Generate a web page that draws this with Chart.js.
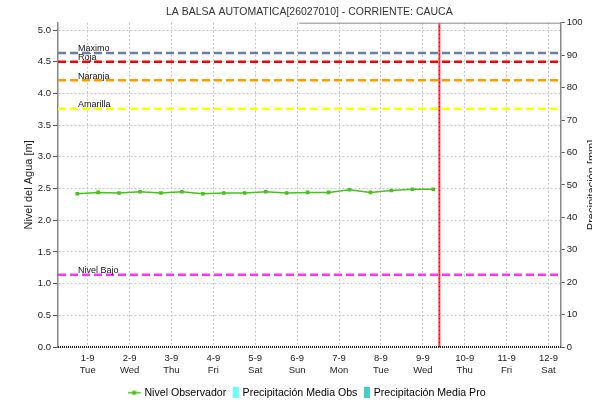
<!DOCTYPE html>
<html lang="es">
<head>
<meta charset="UTF-8">
<title>LA BALSA AUTOMATICA - Nivel del Agua</title>
<script src="https://cdn.jsdelivr.net/npm/chart.js"></script>
<style>
    html, body { margin: 0; padding: 0; background: #fff; }
    #wrap { width: 592px; height: 402px; position: relative; }
</style>
</head>
<body>
<div id="wrap"><canvas id="nivelChart"></canvas></div>
<script>
// time is in hours counted from 1-9 00:00
const horas = [-6, 6, 18, 30, 42, 54, 66, 78, 90, 102, 114, 126, 138, 150, 162, 174, 186, 198];
const nivel = [2.42, 2.44, 2.43, 2.45, 2.43, 2.45, 2.42, 2.43, 2.43, 2.45, 2.43, 2.44, 2.44, 2.48, 2.44, 2.47, 2.49, 2.49];
const precipObs = [];
const precipPro = [];

const fechas = ['1-9', '2-9', '3-9', '4-9', '5-9', '6-9', '7-9', '8-9', '9-9', '10-9', '11-9', '12-9'];
const dias = ['Tue', 'Wed', 'Thu', 'Fri', 'Sat', 'Sun', 'Mon', 'Tue', 'Wed', 'Thu', 'Fri', 'Sat'];

const umbrales = ['Maximo', 'Roja', 'Naranja', 'Amarilla', 'Nivel Bajo'];
const umbralValores = [4.64, 4.5, 4.21, 3.76, 1.14];
const umbralColores = ['#6e7ba3', '#ff0000', '#ff9a00', '#ffff00', '#ff33ff'];

const horaActual = 201.5;
const xMin = -17, xMax = 271;
const yMax = 5.116;

const verde = '#49c11c';
const cyanObs = '#66ffff';
const tealPro = '#44cccc';

Chart.defaults.font.family = "'Liberation Sans', Arial, sans-serif";
Chart.defaults.color = '#222';

// small legend icons
function iconoLinea() {
    const c = document.createElement('canvas');
    c.width = 17; c.height = 9;
    const g = c.getContext('2d');
    g.strokeStyle = verde; g.lineWidth = 1.5;
    g.beginPath(); g.moveTo(0, 4.5); g.lineTo(13, 4.5); g.stroke();
    g.fillStyle = verde; g.fillRect(4.5, 2.5, 4, 4);
    return c;
}
function iconoCaja(color) {
    const c = document.createElement('canvas');
    c.width = 11; c.height = 11;
    const g = c.getContext('2d');
    g.fillStyle = color; g.fillRect(4, 0, 6, 11);
    return c;
}

const datasets = [{
    label: 'Nivel Observador',
    type: 'line',
    data: horas.map((h, i) => ({ x: h, y: nivel[i] })),
    borderColor: verde,
    backgroundColor: verde,
    borderWidth: 1.5,
    pointStyle: 'rect',
    pointRadius: 2.5,
    pointBorderWidth: 0,
    tension: 0,
    yAxisID: 'y',
    order: 1
}, {
    label: 'Precipitación Media Obs',
    type: 'bar',
    data: precipObs,
    backgroundColor: cyanObs,
    yAxisID: 'y2'
}, {
    label: 'Precipitación Media Pro',
    type: 'bar',
    data: precipPro,
    backgroundColor: tealPro,
    yAxisID: 'y2'
}];

// threshold lines across the whole period
umbrales.forEach((nombre, i) => {
    datasets.push({
        label: nombre,
        type: 'line',
        data: [{ x: xMin, y: umbralValores[i] }, { x: xMax, y: umbralValores[i] }],
        borderColor: umbralColores[i],
        borderWidth: 2.5,
        borderDash: [8, 4],
        pointRadius: 0,
        yAxisID: 'y',
        order: 2
    });
});

// current time marker
datasets.push({
    label: 'ahora',
    type: 'line',
    data: [{ x: horaActual, y: 0 }, { x: horaActual, y: yMax }],
    borderColor: '#ff3b3b',
    borderWidth: 2,
    pointRadius: 0,
    yAxisID: 'y',
    order: 0
}, {
    label: 'ahora2',
    type: 'line',
    data: [{ x: horaActual, y: 0 }, { x: horaActual, y: yMax }],
    borderColor: '#b00000',
    borderWidth: 1,
    borderDash: [1, 3],
    pointRadius: 0,
    yAxisID: 'y',
    order: -1
});

const LEYENDA_ALTO = 26;
const AJUSTE_ABAJO = -6;

const textosExtra = {
    id: 'textosExtra',
    afterDatasetsDraw(chart) {
        const { ctx, chartArea, scales } = chart;
        ctx.save();
        ctx.font = "9px 'Liberation Sans', Arial, sans-serif";
        ctx.fillStyle = '#111';
        ctx.textAlign = 'left';
        ctx.textBaseline = 'alphabetic';
        umbrales.forEach((nombre, i) => {
            const y = scales.y.getPixelForValue(umbralValores[i]);
            ctx.fillText(nombre, chartArea.left + 20, y - 1.5);
        });
        ctx.restore();
    },
    afterDraw(chart) {
        const { ctx, chartArea } = chart;
        ctx.save();
        // upper border over the right part of the plot
        ctx.strokeStyle = '#8a8a8a';
        ctx.lineWidth = 1;
        ctx.beginPath();
        ctx.moveTo(chartArea.left + chartArea.width * 0.48, chartArea.top + 0.5);
        ctx.lineTo(chartArea.right, chartArea.top + 0.5);
        ctx.stroke();

        // dotted base line (minor hour ticks)
        ctx.strokeStyle = '#222';
        ctx.lineWidth = 2;
        ctx.setLineDash([1, 1]);
        ctx.beginPath();
        ctx.moveTo(chartArea.left, chartArea.bottom);
        ctx.lineTo(chartArea.right, chartArea.bottom);
        ctx.stroke();
        ctx.setLineDash([]);

        ctx.fillStyle = '#222';
        ctx.font = "11px 'Liberation Sans', Arial, sans-serif";
        ctx.textAlign = 'center';
        const cy = (chartArea.top + chartArea.bottom) / 2;
        ctx.translate(29, cy);
        ctx.rotate(-Math.PI / 2);
        ctx.textBaseline = 'middle';
        ctx.fillText('Nivel del Agua [m]', 0, 0);
        ctx.restore();

        ctx.save();
        ctx.fillStyle = '#222';
        ctx.font = "11px 'Liberation Sans', Arial, sans-serif";
        ctx.textAlign = 'center';
        ctx.textBaseline = 'alphabetic';
        ctx.translate(595, cy);
        ctx.rotate(-Math.PI / 2);
        ctx.fillText('Precipitación [mm]', 0, 0);
        ctx.restore();
    }
};

new Chart(document.getElementById('nivelChart'), {
    data: { datasets },
    options: {
        responsive: true,
        maintainAspectRatio: false,
        animation: false,
        layout: { padding: { left: 0, right: 0, top: 0, bottom: AJUSTE_ABAJO } },
        plugins: {
            title: {
                display: true,
                fullSize: false,
                text: 'LA BALSA AUTOMATICA[26027010] - CORRIENTE: CAUCA',
                color: '#333',
                font: { size: 10.5, weight: 'normal' },
                padding: { top: 5.5, bottom: 4.6 }
            },
            legend: {
                position: 'bottom',
                fullSize: false,
                labels: {
                    usePointStyle: true,
                    pointStyleWidth: 6,
                    padding: 5,
                    color: '#333',
                    font: { size: 10.6 },
                    generateLabels: () => [
                        { text: 'Nivel Observador', pointStyle: iconoLinea(), fillStyle: verde, strokeStyle: verde, lineWidth: 0, hidden: false, datasetIndex: 0 },
                        { text: 'Precipitación Media Obs', pointStyle: iconoCaja(cyanObs), fillStyle: cyanObs, strokeStyle: cyanObs, lineWidth: 0, hidden: false, datasetIndex: 1 },
                        { text: 'Precipitación Media Pro', pointStyle: iconoCaja(tealPro), fillStyle: tealPro, strokeStyle: tealPro, lineWidth: 0, hidden: false, datasetIndex: 2 }
                    ]
                }
            },
            tooltip: { enabled: false }
        },
        scales: {
            x: {
                type: 'linear',
                min: xMin,
                max: xMax,
                offset: false,
                afterBuildTicks: (scale) => {
                    scale.ticks = fechas.map((f, i) => ({ value: i * 24 }));
                },
                afterFit: (scale) => { scale.height = 402 - AJUSTE_ABAJO - 346.7 - LEYENDA_ALTO; },
                ticks: {
                    autoSkip: false,
                    maxRotation: 0,
                    padding: 6,
                    color: '#222',
                    font: { size: 9.5 },
                    callback: (v) => {
                        const i = Math.round(v / 24);
                        return [fechas[i], dias[i]];
                    }
                },
                grid: {
                    offset: false,
                    color: '#c4c4c4',
                    lineWidth: 1,
                    drawTicks: false
                },
                border: { display: false, dash: [2, 2] }
            },
            y: {
                position: 'left',
                min: 0,
                max: yMax,
                afterFit: (scale) => { scale.width = 58; },
                ticks: {
                    stepSize: 0.5,
                    includeBounds: false,
                    padding: 2,
                    color: '#222',
                    font: { size: 9.5 },
                    callback: (v) => v.toFixed(1)
                },
                grid: {
                    color: '#c4c4c4',
                    lineWidth: 1,
                    tickLength: 5,
                    tickColor: '#555',
                    tickBorderDash: []
                },
                border: { color: '#888', width: 1.5, dash: [2, 2] }
            },
            y2: {
                position: 'right',
                min: 0,
                max: 100,
                afterFit: (scale) => { scale.width = 592 - 560.7; },
                ticks: {
                    stepSize: 10,
                    padding: 2,
                    color: '#222',
                    font: { size: 9.5 }
                },
                grid: {
                    drawOnChartArea: false,
                    tickLength: 4,
                    tickColor: '#555'
                },
                border: { color: '#888', width: 1.5 }
            }
        }
    },
    plugins: [textosExtra]
});
</script>
</body>
</html>
